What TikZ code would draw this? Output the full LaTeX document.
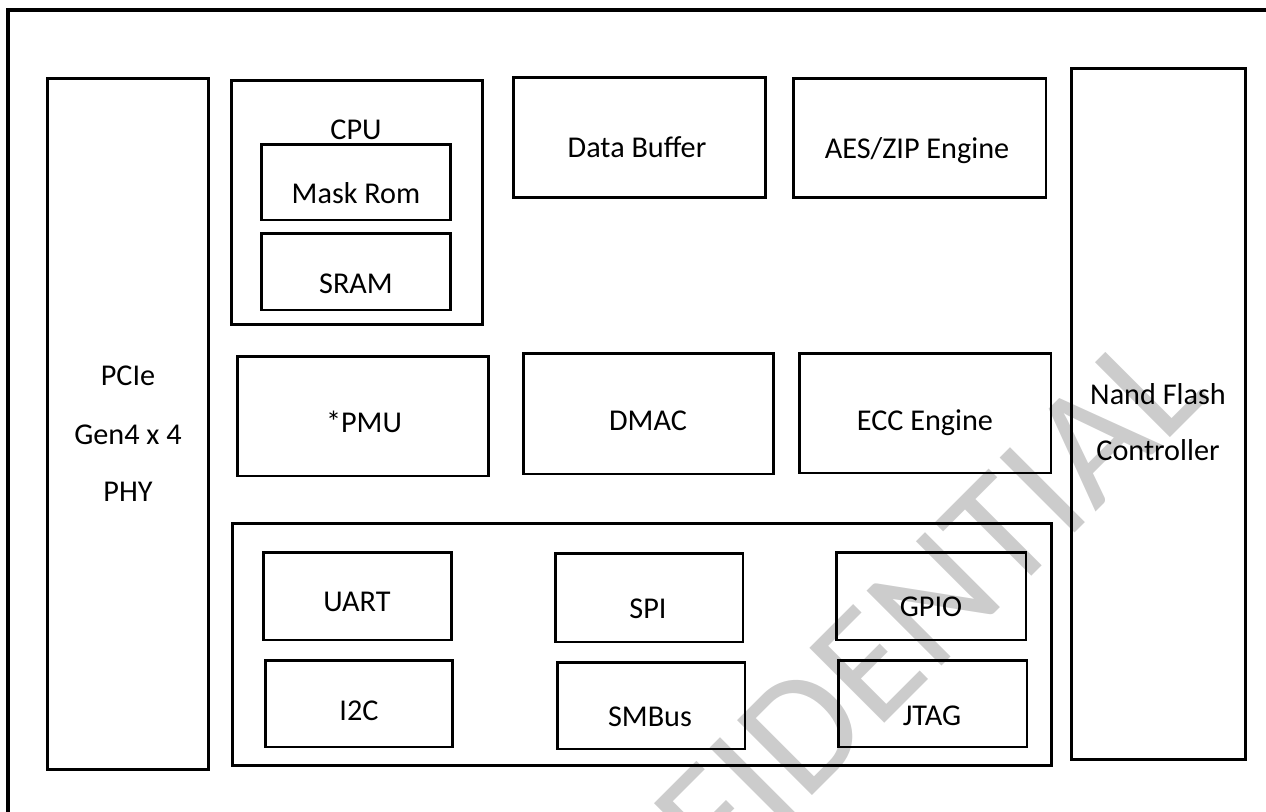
\documentclass[tikz,border=0pt]{standalone}
\usepackage{fontspec}
\setmainfont{Carlito}

\begin{document}
\begin{tikzpicture}[
    x=0.02cm, y=-0.02cm,
    blocco/.style={draw, line width=1.7pt, inner sep=0pt, outer sep=0pt},
    testo/.style={anchor=base, inner sep=0pt, font=\fontsize{17.2}{20}\selectfont},
    filigrana/.style={text=black!20, font=\fontsize{94}{100}\selectfont, rotate=45, anchor=base east, inner sep=0pt}
]
\clip (0,0) rectangle (1266,811);

% Filigrana
\node[filigrana] (wm) at (1212,396) {CONFIDENTIAL};

% Cornice
\draw[line width=2.2pt] (8,850) -- (8,10) -- (1300,10);

% PHY e controller laterali
\node[blocco, minimum width=3.24cm, minimum height=13.84cm] (pcie) at (128,424) {};
\node[testo] (pcie1) at (128,385.5) {PCIe};
\node[testo] (pcie2) at (128,444.5) {Gen4 x 4};
\node[testo] (pcie3) at (128,501.5) {PHY};

\node[blocco, minimum width=3.48cm, minimum height=13.84cm] (nand) at (1158,414) {};
\node[testo] (nand1) at (1158,404.5) {Nand Flash};
\node[testo] (nand2) at (1158,460.5) {Controller};

% CPU
\node[blocco, minimum width=5.04cm, minimum height=4.90cm] (cpu) at (357,202.5) {};
\node[testo] (cpul) at (356,139.5) {CPU};
\node[blocco, minimum width=3.80cm, minimum height=1.52cm] (rom) at (356,182) {};
\node[testo] (roml) at (356,203.5) {Mask Rom};
\node[blocco, minimum width=3.80cm, minimum height=1.54cm] (sram) at (356,271.5) {};
\node[testo] (sraml) at (356,293.5) {SRAM};

% Riga superiore
\node[blocco, minimum width=5.06cm, minimum height=2.42cm] (buf) at (639.5,137.5) {};
\node[testo] (bufl) at (637,157.5) {Data Buffer};
\node[blocco, minimum width=5.06cm, minimum height=2.40cm] (aes) at (919.5,138) {};
\node[testo] (aesl) at (917,158.5) {AES/ZIP Engine};

% Riga centrale
\node[blocco, minimum width=5.04cm, minimum height=2.40cm] (pmu) at (363,416) {};
\node[testo] (pmul) at (364,432.5) {*PMU};
\node[blocco, minimum width=5.02cm, minimum height=2.42cm] (dmac) at (648.5,413.5) {};
\node[testo] (dmacl) at (648,430.5) {DMAC};
\node[blocco, minimum width=5.04cm, minimum height=2.40cm] (ecc) at (925,413) {};
\node[testo] (eccl) at (925,430.5) {ECC Engine};

% Periferiche
\node[blocco, minimum width=16.40cm, minimum height=4.86cm] (io) at (642,644.5) {};
\node[blocco, minimum width=3.78cm, minimum height=1.76cm] (uart) at (357.5,596) {};
\node[testo] (uartl) at (357,611.5) {UART};
\node[blocco, minimum width=3.76cm, minimum height=1.74cm] (i2c) at (359,703.5) {};
\node[testo] (i2cl) at (359,720.5) {I2C};
\node[blocco, minimum width=3.76cm, minimum height=1.78cm] (spi) at (649,597.5) {};
\node[testo] (spil) at (648,618.5) {SPI};
\node[blocco, minimum width=3.76cm, minimum height=1.74cm] (smb) at (651,705.5) {};
\node[testo] (smbl) at (650,726.5) {SMBus};
\node[blocco, minimum width=3.80cm, minimum height=1.76cm] (gpio) at (931,596) {};
\node[testo] (gpiol) at (931,616.5) {GPIO};
\node[blocco, minimum width=3.78cm, minimum height=1.74cm] (jtag) at (932.5,703.5) {};
\node[testo] (jtagl) at (932,725.5) {JTAG};

\end{tikzpicture}
\end{document}
